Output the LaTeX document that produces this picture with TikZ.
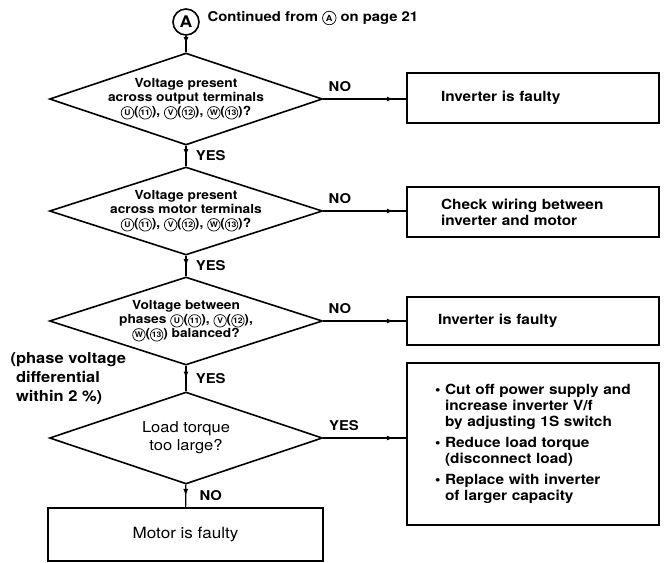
\documentclass[tikz,border=0pt]{standalone}
\usepackage{fontspec}
\setmainfont{TeX Gyre Heros}[FakeStretch=1.1]
\usetikzlibrary{arrows.meta,shapes.geometric,decorations.markings}

\newcommand{\circnum}[1]{\tikz[baseline=(cn.base)]\node[circle,draw,line width=0.7pt,inner sep=0.2pt,minimum size=1em] (cn) {\scalebox{0.62}{#1}};}

\begin{document}
\begin{tikzpicture}[x=1pt,y=-1pt,
    decision/.style={diamond,draw,line width=1.6pt,minimum width=273pt,minimum height=#1,
        shape aspect=3,inner xsep=-20pt,inner ysep=-6pt,align=center,
        font=\fontsize{12.5}{14}\selectfont\bfseries},
    decision/.default=90pt,
    resultbox/.style={rectangle,draw,line width=1.6pt,minimum width=252pt,align=left,
        font=\fontsize{14}{16}\selectfont\bfseries},
    answer/.style={font=\fontsize{13.5}{14}\selectfont\bfseries},
    flowline/.style={line width=1.2pt,postaction={decorate},
        decoration={markings,mark=at position #1 with {\arrow{Latex[length=7pt,width=5pt]}}}},
    flowline/.default=0.5]
  \useasboundingbox (0,0) rectangle (665,563);

  % start marker
  \node[circle,draw,line width=1.6pt,minimum size=26pt,inner sep=0pt,
        font=\fontsize{16}{16}\selectfont\bfseries] (start) at (186,22) {A};
  \node[anchor=west,font=\fontsize{13.5}{14}\selectfont\bfseries] (title) at (204,18)
        {Continued from \circnum{A} on page 21};

  % decisions
  \node[decision=92pt] (q1) at (186,99)
        {Voltage present\\across output terminals\\\circnum{U}(\circnum{11}), \circnum{V}(\circnum{12}), \circnum{W}(\circnum{13})?};
  \node[decision=88pt] (q2) at (186,211)
        {Voltage present\\across motor terminals\\\circnum{U}(\circnum{11}), \circnum{V}(\circnum{12}), \circnum{W}(\circnum{13})?};
  \node[decision=88pt] (q3) at (186,321)
        {Voltage between\\phases \circnum{U}(\circnum{11}), \circnum{V}(\circnum{12}),\\\circnum{W}(\circnum{13}) balanced?};
  \node[decision=92pt,font=\fontsize{15}{18}\selectfont] (q4) at (186,438)
        {Load torque\\too large?};

  \node[anchor=north west,align=left,font=\fontsize{15}{19}\selectfont\bfseries] (note) at (7,349)
        {(phase voltage\\\hphantom{(}differential\\\hphantom{(}within 2 \%)};

  % results
  \node[rectangle,draw,line width=1.6pt,minimum width=275pt,minimum height=53pt,
        font=\fontsize{15.5}{16}\selectfont] (motor) at (185.5,534.5) {Motor is faulty};
  \node[resultbox,minimum height=50pt,text width=184pt] (r1) at (533,98) {Inverter is faulty};
  \node[resultbox,minimum height=50pt,text width=184pt] (r2) at (533,212)
        {Check wiring between\\inverter and motor};
  \node[resultbox,minimum height=48pt,text width=190pt] (r3) at (533,321) {Inverter is faulty};
  \node[resultbox,minimum height=162pt,text width=196pt] (r4) at (533,444)
        {\textbullet\ Cut off power supply and\\
         \hphantom{\textbullet\ }increase inverter V/f\\
         \hphantom{\textbullet\ }by adjusting 1S switch\\[5pt]
         \textbullet\ Reduce load torque\\
         \hphantom{\textbullet\ }(disconnect load)\\[5pt]
         \textbullet\ Replace with inverter\\
         \hphantom{\textbullet\ }of larger capacity};

  % connectors
  \draw[flowline] (start) -- (q1);
  \draw[flowline] (q1) -- node[answer,right=6pt]{YES} (q2);
  \draw[flowline] (q2) -- node[answer,right=6pt]{YES} (q3);
  \draw[flowline] (q3) -- node[answer,right=6pt]{YES} (q4);
  \draw[flowline] (q4) -- node[answer,right=10pt]{NO} (motor);

  \draw[flowline=0.85] (q1.east) -- node[answer,above=3pt,pos=0.2]{NO} (q1.east -| r1.west);
  \draw[flowline=0.85] (q2.east) -- node[answer,above=3pt,pos=0.2]{NO} (q2.east -| r2.west);
  \draw[flowline=0.85] (q3.east) -- node[answer,above=3pt,pos=0.2]{NO} (q3.east -| r3.west);
  \draw[flowline=0.85] (q4.east) -- node[answer,above=3pt,pos=0.25]{YES} (q4.east -| r4.west);
\end{tikzpicture}
\end{document}
